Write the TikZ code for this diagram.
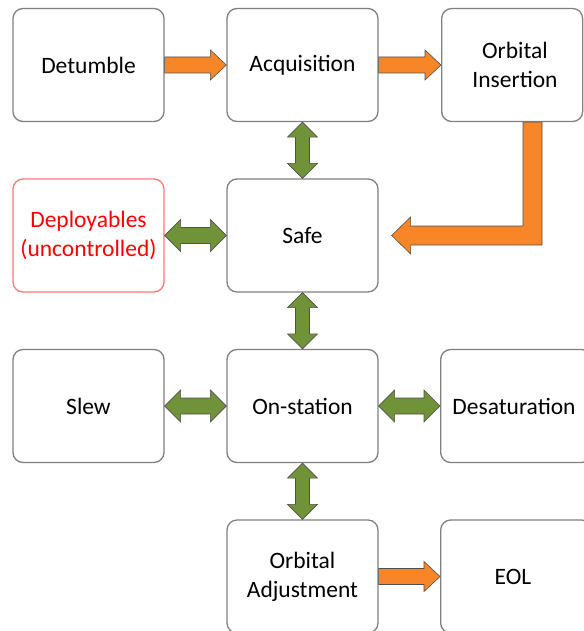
\documentclass[tikz,border=0pt]{standalone}
\usepackage{fontspec}
\setmainfont{Carlito}
\usetikzlibrary{calc}
\definecolor{boxgray}{RGB}{128,128,128}
\definecolor{depred}{RGB}{255,120,120}
\definecolor{txtred}{RGB}{255,0,0}
\definecolor{orfill}{RGB}{247,134,40}
\definecolor{grfill}{RGB}{112,146,56}
\definecolor{arredge}{RGB}{80,80,80}
\tikzset{
  stbox/.style={draw=boxgray, line width=1.3pt, rounded corners=10pt, fill=white,
    minimum width=151pt, minimum height=113pt, align=center, inner sep=0pt,
    font=\fontsize{23.5}{29}\selectfont},
  lbl/.style={font=\fontsize{23.5}{29}\selectfont, align=center},
  oarr/.style={fill=orfill, draw=arredge, line width=0.6pt},
  garr/.style={fill=grfill, draw=arredge, line width=0.6pt}
}
\newcommand\myRarrow[2]{%
  \draw[oarr] ($(#1)+(0,-8)$) -- ($(#2)+(-16,-8)$) -- ($(#2)+(-16,-15)$) -- (#2)
    -- ($(#2)+(-16,15)$) -- ($(#2)+(-16,8)$) -- ($(#1)+(0,8)$) -- cycle;}
\newcommand\myHarrow[2]{%
  \draw[garr] (#1) -- ($(#1)+(16,-16)$) -- ($(#1)+(16,-8)$) -- ($(#2)+(-16,-8)$)
    -- ($(#2)+(-16,-16)$) -- (#2) -- ($(#2)+(-16,16)$) -- ($(#2)+(-16,8)$)
    -- ($(#1)+(16,8)$) -- ($(#1)+(16,16)$) -- cycle;}
\newcommand\myVarrow[2]{%
  \draw[garr] (#1) -- ($(#1)+(-15,15)$) -- ($(#1)+(-7,15)$) -- ($(#2)+(-7,-15)$)
    -- ($(#2)+(-15,-15)$) -- (#2) -- ($(#2)+(15,-15)$) -- ($(#2)+(7,-15)$)
    -- ($(#1)+(7,15)$) -- ($(#1)+(15,15)$) -- cycle;}
\begin{document}
\begin{tikzpicture}[x=1pt,y=-1pt]
\useasboundingbox (0,0) rectangle (583,631);
\node[stbox] (det) at (88.5,65) {Detumble};
\node[stbox] (acq) at (302.5,65) {Acquisition};
\node[stbox, anchor=west, minimum width=141pt] (orb) at (441,65) {};
\node[lbl] (orbt) at (515,65) {Orbital\\Insertion};
\node[stbox, draw=depred, text=txtred] (dep) at (88.5,235.5) {Deployables\\(uncontrolled)};
\node[stbox] (safe) at (302.5,235.5) {Safe};
\node[stbox] (slew) at (88.5,406) {Slew};
\node[stbox] (onst) at (302.5,406) {On-station};
\node[stbox, anchor=west] (desat) at (440,406) {};
\node[lbl] (desatt) at (514,406) {Desaturation};
\node[stbox] (adj) at (302.5,576.5) {Orbital\\Adjustment};
\node[stbox, anchor=west] (eol) at (440,576.5) {};
\node[lbl] (eolt) at (513,576.5) {EOL};
% orange arrows
\myRarrow{det.east}{acq.west}
\myRarrow{acq.east}{orb.west}
\myRarrow{adj.east}{eol.west}
% L-shaped arrow
\coordinate (ltop) at ($(orb.south west)+(91.5,0)$);
\coordinate (ltip) at ($(safe.east)+(13,0)$);
\coordinate (lc) at (ltop |- ltip);
\draw[oarr] ($(ltop)+(-9.5,0)$) -- ($(ltop)+(9.5,0)$) -- ($(lc)+(9.5,9.5)$)
  -- ($(ltip)+(19,9.5)$) -- ($(ltip)+(19,18.5)$) -- (ltip) -- ($(ltip)+(19,-18.5)$)
  -- ($(ltip)+(19,-9.5)$) -- ($(lc)+(-9.5,-9.5)$) -- cycle;
% green arrows
\myHarrow{dep.east}{safe.west}
\myHarrow{slew.east}{onst.west}
\myHarrow{onst.east}{desat.west}
\myVarrow{acq.south}{safe.north}
\myVarrow{safe.south}{onst.north}
\myVarrow{onst.south}{adj.north}
\end{tikzpicture}
\end{document}
